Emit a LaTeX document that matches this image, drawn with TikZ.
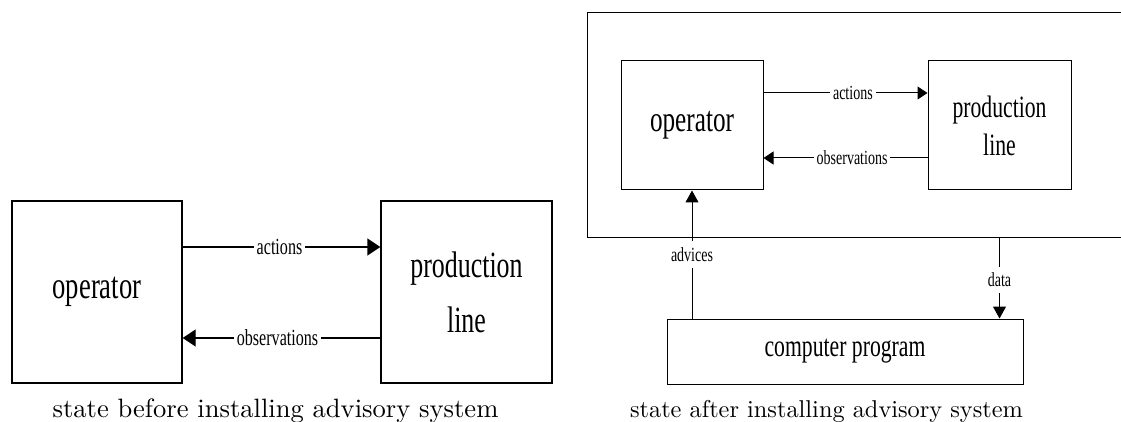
\documentclass[tikz,border=0pt]{standalone}
\usepackage{fontspec}
\usepackage{graphicx}
\newfontfamily\tms{Liberation Serif}
\usetikzlibrary{arrows.meta}
% condensed serif text
\newcommand{\nar}[1]{\scalebox{0.7}[1]{#1}}
\newcommand{\tsz}[1]{\tms\fontsize{#1}{#1}\selectfont}

\begin{document}
\begin{tikzpicture}[x=1pt,y=-1pt,
  lbox/.style={draw, line width=1.3pt, inner sep=0pt, align=center},
  rbox/.style={draw, line width=1pt, inner sep=0pt, align=center},
  larr/.style={line width=1.3pt, -{Triangle[length=13pt,width=17pt]}},
  rarr/.style={line width=1pt, -{Triangle[length=10pt,width=13pt]}},
  varr/.style={line width=1pt, -{Triangle[length=12pt,width=13pt]}},
  llbl/.style={fill=white, inner xsep=3pt, inner ysep=1pt, font=\tsz{23}},
  rlbl/.style={fill=white, inner xsep=3pt, inner ysep=1pt, font=\tsz{20}},
  vlbl/.style={fill=white, inner xsep=2pt, inner ysep=6pt, font=\tsz{20}},
  caption/.style={anchor=base, inner sep=0pt}
]
\useasboundingbox (0,0) rectangle (1121,422);
\clip (0,0) rectangle (1121,422);

% ---- before: operator and production line ----
\node[lbox, minimum width=170pt, minimum height=182pt, font=\tsz{38}] (op1) at (97,292)
  {\nar{operator}};
\node[lbox, minimum width=171pt, minimum height=182pt,
      font=\tms\fontsize{37}{55}\selectfont] (pl1) at (466.5,292)
  {\nar{production}\\\nar{line}};

\draw[larr] ([yshift=45pt]op1.east) -- ([yshift=45pt]pl1.west)
  node[llbl, pos=0.49] {\nar{actions}};
\draw[larr] ([yshift=-46pt]pl1.west) -- ([yshift=-46pt]op1.east)
  node[llbl, pos=0.52] {\nar{observations}};

\node[caption] (cap1) at (275.5,417)
  {\scalebox{2.656}{state before installing advisory system}};

% ---- after: advisory system added ----
\node[rbox, minimum width=142pt, minimum height=129pt, font=\tsz{36}] (op2) at (692,125.5)
  {\nar{operator}};
\node[rbox, minimum width=143pt, minimum height=129pt,
      font=\tms\fontsize{31}{38}\selectfont] (pl2) at (999.5,125.5)
  {\nar{production}\\\nar{line}};
\node[rbox, minimum width=356pt, minimum height=65pt, font=\tsz{31}] (cp) at (845,351.5)
  {\nar{computer program}};

\draw[rarr] ([yshift=32.5pt]op2.east) -- ([yshift=32.5pt]pl2.west)
  node[rlbl, pos=0.545] {\nar{actions}};
\draw[rarr] ([yshift=-32.5pt]pl2.west) -- ([yshift=-32.5pt]op2.east)
  node[rlbl, pos=0.46] {\nar{observations}};

\draw[varr] (op2 |- cp.north) -- (op2.south)
  node[vlbl, pos=0.5] {\nar{advices}};

% frame around operator and production line, open to the right
\node[rbox, minimum width=600pt, minimum height=225pt, anchor=north west] (sys) at (587,12) {};

\draw[varr] (sys.south -| pl2) -- (pl2 |- cp.north)
  node[vlbl, pos=0.52] {\nar{data}};

\node[caption] (cap2) at (826.5,417)
  {\scalebox{2.434}{state after installing advisory system}};
\end{tikzpicture}
\end{document}
